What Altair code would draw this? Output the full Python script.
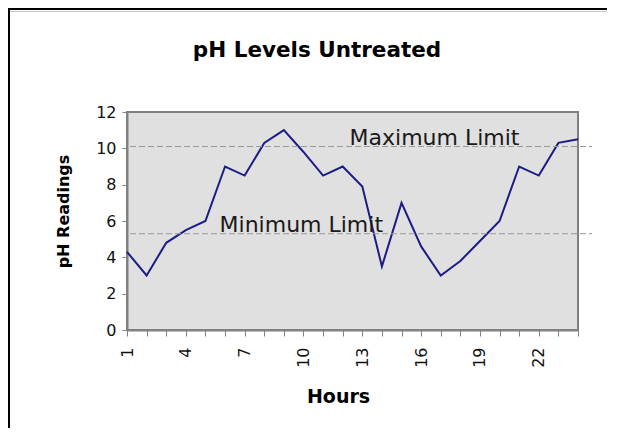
import altair as alt
import pandas as pd

# ---- data ----
hours = list(range(1, 25))
ph_values = [4.3, 3.0, 4.8, 5.5, 6.0, 9.0, 8.5, 10.3, 11.0, 9.8, 8.5, 9.0,
             7.9, 3.5, 7.0, 4.6, 3.0, 3.8, 4.9, 6.0, 9.0, 8.5, 10.3, 10.5]
limit_names = ["Maximum Limit", "Minimum Limit"]
limit_values = [10.1, 5.3]
limit_label_hours = [12.35, 5.72]
y_ticks = [0, 2, 4, 6, 8, 10, 12]
chart_title = "pH Levels Untreated"
x_title = "Hours"
y_title = "pH Readings"

FONT = "DejaVu Sans"
W, H = 451, 218

df = pd.DataFrame({"hour": hours, "ph": ph_values})
limits = pd.DataFrame({"name": limit_names, "value": limit_values,
                       "lx": limit_label_hours})
one = pd.DataFrame({"a": [0]})

xscale = alt.Scale(domain=[1, 24], nice=False, zero=False)
yscale = alt.Scale(domain=[0, 12], nice=False)

x_axis = alt.Axis(
    values=hours,
    labelExpr="(datum.value - 1) % 3 == 0 ? datum.label : ''",
    labelAngle=270, labelFont=FONT, labelFontSize=16, labelColor="#111",
    labelPadding=11, tickSize=6, tickColor="#808080",
    domainColor="#808080", domainWidth=2, grid=False,
    title=x_title, titleFont=FONT, titleFontSize=19, titleFontWeight="bold",
    titleColor="#000", titleX=211, titleY=72, titleBaseline="alphabetic",
    titleAlign="center")
y_axis = alt.Axis(
    values=y_ticks, labelFont=FONT, labelFontSize=16, labelColor="#111",
    labelPadding=6, tickSize=5, tickColor="#808080",
    domainColor="#808080", domainWidth=2, grid=False,
    title=y_title, titleFont=FONT, titleFontSize=16, titleFontWeight="bold",
    titleColor="#000", titleAngle=270, titleX=-59, titleY=99,
    titleBaseline="alphabetic", titleAlign="center")

line = alt.Chart(df).mark_line(color="#1c1c86", strokeWidth=2).encode(
    x=alt.X("hour:Q", scale=xscale, axis=x_axis),
    y=alt.Y("ph:Q", scale=yscale, axis=y_axis),
)

limit_rules = alt.Chart(limits).mark_rule(
    color="#9a9a9a", strokeWidth=1, strokeDash=[6, 3]).encode(
    y=alt.Y("value:Q", scale=yscale, axis=y_axis),
    x=alt.value(3), x2=alt.value(465),
)

limit_text = alt.Chart(limits).mark_text(
    font=FONT, fontSize=22, color="#1a1a1a", align="left",
    baseline="alphabetic", dy=-2).encode(
    x=alt.X("lx:Q", scale=xscale, axis=x_axis),
    y=alt.Y("value:Q", scale=yscale, axis=y_axis),
    text="name:N",
)

title = alt.Chart(one).mark_text(
    text=chart_title, font=FONT, fontSize=21.5, fontWeight="bold",
    color="#000", align="center", baseline="alphabetic").encode(
    x=alt.value(190), y=alt.value(-55))

frame_left = alt.Chart(one).mark_rule(color="#000", strokeWidth=2).encode(
    x=alt.value(-118), y=alt.value(-104), y2=alt.value(320))
frame_top = alt.Chart(one).mark_rule(color="#000", strokeWidth=2).encode(
    x=alt.value(-119), x2=alt.value(480), y=alt.value(-103))
frame_top2 = alt.Chart(one).mark_rule(color="#c8c8c8", strokeWidth=1).encode(
    x=alt.value(-117), x2=alt.value(480), y=alt.value(-100.5))

chart = alt.layer(
    line, limit_rules, limit_text, title, frame_left, frame_top, frame_top2
).properties(
    width=W, height=H,
    autosize=alt.AutoSizeParams(type="none"),
    padding={"left": 119, "top": 104, "right": 34, "bottom": 98},
    background="#ffffff",
).configure_view(
    fill="#e0e0e0", stroke="#808080", strokeWidth=2
)

chart.save("out.html", embed_options={"renderer": "svg", "actions": False})
